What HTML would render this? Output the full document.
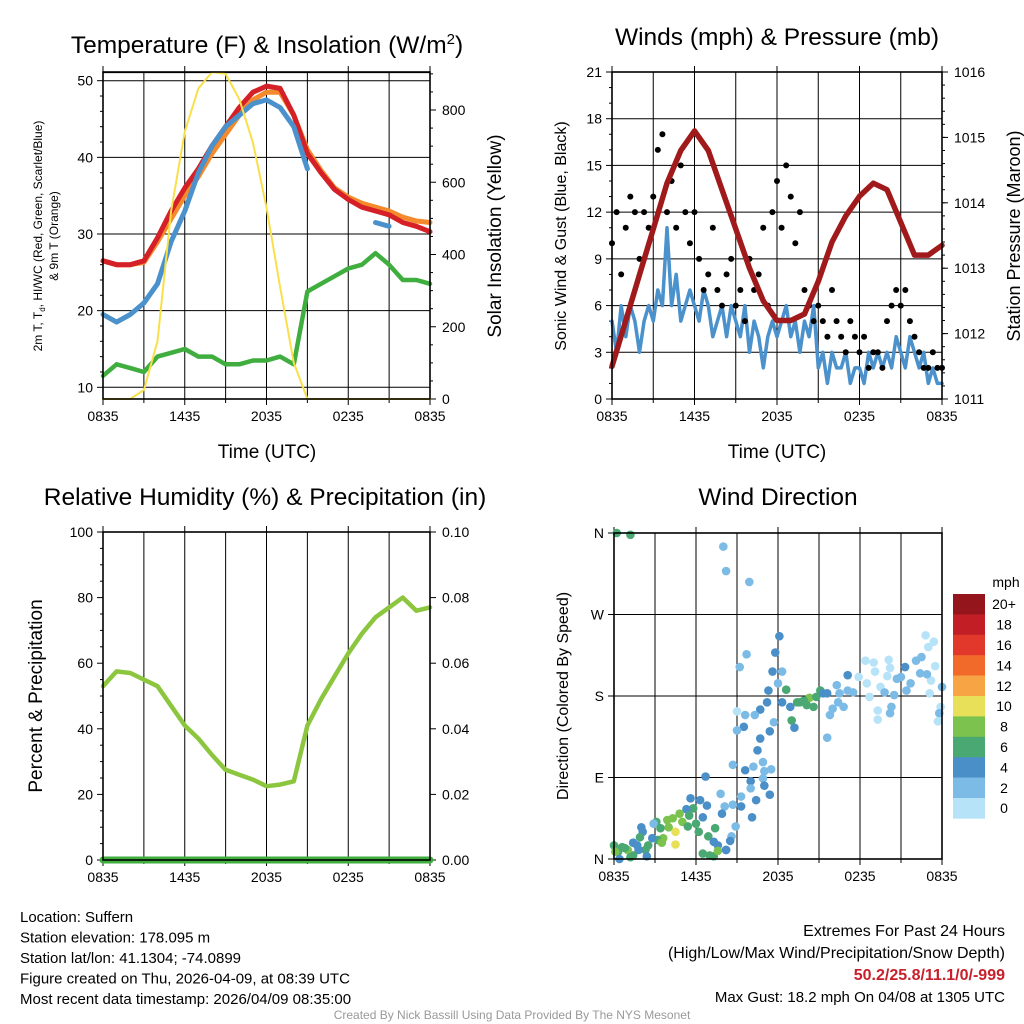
<!DOCTYPE html>
<html><head><meta charset="utf-8"><style>
html,body{margin:0;padding:0;background:#fff;}
svg{display:block;font-family:"Liberation Sans",Arial,sans-serif;}
</style></head><body>
<svg id="c" width="1024" height="1024" viewBox="0 0 1024 1024"></svg>
<script>
// ---------- data ----------
const xTickLabels = ["0835","1435","2035","0235","0835"];
const hours = [0,1,2,3,4,5,6,7,8,9,10,11,12,13,14,15,16,17,18,19,20,21,22,23,24];
const tempRed = [26.5,26,26,26.5,29.5,33,36,38.5,41.5,44,46.5,48.5,49.3,49,45.5,40.5,38,35.8,34.5,33.5,33,32.5,31.5,31,30.3];
const tempOrange = [26.5,26,26,26.3,29,32,35,37.5,40.5,43,45.5,47.5,48.5,48.5,45.5,41,38.3,36,34.8,34,33.5,33,32.2,31.7,31.5];
const tempBlue = [19.5,18.5,19.5,21,23.5,29,33,38,41.5,44,45.5,47,47.5,46.5,44,38.5,null,34.5,null,null,31.5,31,null,null,null];
const tempGreen = [11.5,13,12.5,12,14,14.5,15,14,14,13,13,13.5,13.5,14,13,22.5,23.5,24.5,25.5,26,27.5,26,24,24,23.5];
const solar = [0,0,0,25,160,520,740,860,905,900,830,710,530,310,100,0,0,0,0,0,0,0,0,0,0];
const tempTicks = [10,20,30,40,50];
const solarTicks = [0,200,400,600,800];

const stepHours = 1/3;
const windSpeed = [5,3,6,4,6,5,3,5,6, 5,7,6,11,6,8,5,6,7, 6,5,7,6,4,5,6,4,6, 5,4,6,3,5,4,2,4,5, 4,5,6,4,5,3,5,4,6, 2,3,1,3,2,2,3,1,2, 2,1,3,2,3,2,3,2,4, 3,2,4,3,2,3,1,2,1,1];
const gusts = [10,12,8,11,13,12,9,12,11, 13,16,17,12,14,11,15,12,10, 12,9,7,8,11,7,6,8,9, 6,7,5,9,7,8,11,6,12, 14,11,15,13,10,12,7,6,5, 6,5,4,7,5,4,3,5,4, 3,4,2,3,3,2,5,6,7, 6,7,5,4,3,2,2,3,2,2];
const pressure = [1011.5,1012.2,1012.9,1013.6,1014.3,1014.8,1015.1,1014.8,1014.2,1013.6,1013,1012.5,1012.2,1012.2,1012.3,1012.8,1013.4,1013.8,1014.1,1014.3,1014.2,1013.7,1013.2,1013.2,1013.35];
const windTicks = [0,3,6,9,12,15,18,21];
const pressTicks = [1011,1012,1013,1014,1015,1016];

const rh = [53,57.5,57,55,53,47,41,37,32,27.5,26,24.5,22.5,23,24,41,49,56,63,69,74,77,80,76,77];
const precip = [0,0,0,0,0,0,0,0,0,0,0,0,0,0,0,0,0,0,0,0,0,0,0,0,0];
const rhTicks = [0,20,40,60,80,100];
const precipTicks = ["0.00","0.02","0.04","0.06","0.08","0.10"];

const dirHours = [0.2,1.2,8.0,8.2,9.9,12.1,9.7,9.2,11.8,11.6,12.3,12.0,11.3,12.6,11.2,12.3,13.4,14.3,15.1,14.1,12.9,10.7,9.0,9.6,10.3,9.5,9.0,11.4,11.7,13.0,13.2,10.7,10.5,15.6,15.8,16.0,16.8,16.4,17.1,17.1,16.3,17.9,18.4,19.0,19.1,18.5,19.5,20.1,20.2,20.0,19.8,18.7,19.3,19.3,20.3,20.2,20.5,21.3,21.0,21.7,22.1,22.5,22.8,23.0,23.4,23.5,23.2,23.1,24.0,23.9,23.8,23.7,22.4,22.9,21.4,20.7,16.5,15.6,17.5,
8.7,9.6,10.2,10.9,11.0,11.5,10.9,11.0,10.0,10.0,11.4,10.4,9.3,9.3,10.1,8.9,8.6,8.5,8.2,7.8,8.1,7.9,8.7,6.7,5.6,6.3,6.8,6.5,5.8,5.3,5.5,4.8,4.3,5.0,5.4,6.0,6.2,3.9,4.0,3.1,2.9,3.4,3.6,3.2,3.5,4.5,4.5,2.0,2.1,1.9,1.7,1.4,2.8,2.5,2.3,2.4,1.8,1.4,1.0,0.8,0.6,0.3,0.0,0.1,0.4,1.2,6.9,7.4,7.3,7.6,6.5,7.0,7.3,7.6,8.2,13.6,13.9,14.6,14.8,15.3];
const dirDegrees = [360,358,345,318,306,246,226,212,228,207,207,194,186,187,173,173,173,178,186,170,168,165,163,159,159,146,142,141,151,153,145,133,120,134,159,166,168,173,186,203,192,201,219,217,207,194,190,220,211,202,184,179,164,154,168,161,181,212,201,194,219,223,247,234,240,213,197,183,190,168,161,152,205,204,186,199,183,183,184,
104,98,102,107,97,99,89,81,86,78,71,65,69,58,46,36,25,20,10,72,58,50,60,91,67,65,59,46,56,55,48,50,45,41,36,39,30,43,35,41,39,34,23,21,18,30,16,35,30,24,15,18,23,15,10,3,10,4,10,12,13,8,15,8,0,2,25,34,19,15,6,4,3,9,10,173,175,168,179,183];
const dirSpeeds = [6,6,2,2,2,4,2,2,4,4,2,2,4,6,4,4,6,8,6,6,4,4,0,2,2,4,2,4,2,6,4,4,4,2,2,2,2,2,2,4,2,0,0,0,0,0,0,0,0,0,2,0,0,0,2,2,2,4,2,2,2,2,0,0,0,0,0,0,2,0,2,0,2,2,2,2,2,4,2,
2,4,2,2,2,2,2,4,4,2,4,4,2,4,4,2,2,4,4,2,2,4,2,4,4,4,4,4,6,4,6,8,8,8,6,6,6,8,8,6,2,6,8,6,8,10,10,4,4,6,4,4,4,6,6,4,4,6,8,6,6,6,6,8,4,6,6,6,4,4,6,6,6,8,4,6,6,6,6,4];
const dirTickLabels = ["N","E","S","W","N"];
const speedBins = ["0","2","4","6","8","10","12","14","16","18","20+"];
const binColors = ["#b6e3f8","#7cbbe6","#4a8fc8","#4aa872","#7cc24e","#e8e058","#f7a544","#f26a2a","#e2372b","#c11f25","#94161c"];

// ---------- helpers ----------
const svg = document.getElementById('c');
const NS = 'http://www.w3.org/2000/svg';
function mk(tag, attrs, parent, text){
  const e = document.createElementNS(NS, tag);
  for (const k in attrs) e.setAttribute(k, attrs[k]);
  if (text !== undefined) e.textContent = text;
  (parent || svg).appendChild(e);
  return e;
}
function scale(d0,d1,r0,r1){ return v => r0 + (v-d0)/(d1-d0)*(r1-r0); }
function polyPts(xs, ys, fx, fy){
  const segs=[]; let cur=[];
  for (let i=0;i<xs.length;i++){
    if (ys[i]===null){ if(cur.length) segs.push(cur); cur=[]; continue; }
    cur.push(fx(xs[i]).toFixed(1)+','+fy(ys[i]).toFixed(1));
  }
  if(cur.length) segs.push(cur);
  return segs.map(s=>s.join(' '));
}
function frame(g, L, T, R, B, fx){
  for (let h=3; h<24; h+=3){
    const l = mk('line',{x1:fx(h),x2:fx(h),y1:T,y2:B,stroke:'#000','stroke-width':1},g);
    
    
  }
  xTickLabels.forEach((t,i)=>{
    const x = fx(i*6);
    mk('line',{x1:x,x2:x,y1:B,y2:B+6,stroke:'#000'},g);
    mk('line',{x1:x,x2:x,y1:T,y2:T-6,stroke:'#000'},g);
    const tx = mk('text',{x:x,y:B+22,'font-size':14,'text-anchor':'middle'},g,t);
    
    
  });
  for (let h=3; h<24; h+=6){
    mk('line',{x1:fx(h),x2:fx(h),y1:B,y2:B+4,stroke:'#000'},g);
  }
}
function border(g,L,T,R,B){
  const r = mk('rect',{x:L,y:T,width:R-L,height:B-T,fill:'none',stroke:'#000','stroke-width':1.6},g);
  
  
}
function yTicksLeft(g,L,ticks,fy,labels){
  ticks.forEach((v,i)=>{
    const y=fy(v);
    mk('line',{x1:L-6,x2:L,y1:y,y2:y,stroke:'#000'},g);
    const t = mk('text',{x:L-10,y:y+5,'font-size':14,'text-anchor':'end'},g,labels?labels[i]:String(v));
    
    
  });
}
function yTicksRight(g,R,ticks,fy,labels){
  ticks.forEach((v,i)=>{
    const y=fy(v);
    mk('line',{x1:R,x2:R+6,y1:y,y2:y,stroke:'#000'},g);
    const t = mk('text',{x:R+12,y:y+5,'font-size':14,'text-anchor':'start'},g,labels?labels[i]:String(v));
    
    
  });
}
function title(x,y,txt,name){
  const t = mk('text',{x:x,y:y,'font-size':24.5,'text-anchor':'middle'},svg,txt);
  
  
  return t;
}
function rotLabel(x,y,txt,size,name){
  const t = mk('text',{x:x,y:y,'font-size':size,'text-anchor':'middle',transform:`rotate(-90 ${x} ${y})`},svg,txt);
  
  
  return t;
}
function line(g,xs,ys,fx,fy,color,w,name){
  polyPts(xs,ys,fx,fy).forEach(p=>{
    const l = mk('polyline',{points:p,fill:'none',stroke:color,'stroke-width':w,'stroke-linejoin':'round','stroke-linecap':'round'},g);
    
    
  });
}

// ---------- Panel 1: temperature ----------
(function(){
  const L=103,R=430,T=72,B=399;
  const g = mk('g',{});
  
  
  const fx=scale(0,24,L,R), fy=scale(10,50,387.3,80.7), fs=scale(0,800,B,110);
  frame(g,L,T,R,B,fx);
  tempTicks.forEach(v=>{ mk('line',{x1:L,x2:R,y1:fy(v),y2:fy(v),stroke:'#000'},g); });
  mk('line',{x1:L,x2:R,y1:fs(905)+0.5,y2:fs(905)+0.5,stroke:'#000'},g);
  for(let v=12; v<=50; v+=2){ if(v%10) mk('line',{x1:L-3,x2:L,y1:fy(v),y2:fy(v),stroke:'#000'},g); }
  for(let v=50; v<=900; v+=50){ if(v%200) mk('line',{x1:R,x2:R+3,y1:fs(v),y2:fs(v),stroke:'#000'},g); }
  yTicksLeft(g,L,tempTicks,fy);
  yTicksRight(g,R,solarTicks,fs);
  line(g,hours,tempGreen,fx,fy,'#3fae3f',4.5,'dewpoint-line');
  line(g,hours,tempOrange,fx,fy,'#f58a2c',5,'9m-temperature-line');
  line(g,hours,tempRed,fx,fy,'#d42026',5,'2m-temperature-line');
  line(g,hours,tempBlue,fx,fy,'#4b91cc',5,'wind-chill-line');
  line(g,hours,solar,fx,fs,'#f9e04b',2,'solar-insolation-line');
  border(g,L,T,R,B);
  const t = title(267,53,'Temperature (F) & Insolation (W/m','temperature-title');
  mk('tspan',{dy:-9,'font-size':15},t,'2');
  mk('tspan',{dy:9},t,')');
  title(267,458,'Time (UTC)','x-axis-title').setAttribute('font-size',19);
  const a = rotLabel(42,236,'',12,'temperature-axis-title');
  a.appendChild(document.createTextNode('2m T, T'));
  mk('tspan',{'font-size':8,dy:3},a,'d');
  mk('tspan',{dy:-3},a,', HI/WC (Red, Green, Scarlet/Blue)');
  rotLabel(58,236,'& 9m T (Orange)',12,'temperature-axis-title-2');
  rotLabel(501,236,'Solar Insolation (Yellow)',19,'solar-axis-title');
})();

// ---------- Panel 2: winds ----------
(function(){
  const L=612,R=942,T=72,B=399;
  const g = mk('g',{});
  
  
  const fx=scale(0,24,L,R), fy=scale(0,21,B,T), fp=scale(1011,1016,B,T);
  frame(g,L,T,R,B,fx);
  windTicks.forEach(v=>{ mk('line',{x1:L,x2:R,y1:fy(v),y2:fy(v),stroke:'#000'},g); });
  for(let v=1; v<21; v++){ if(v%3) mk('line',{x1:L-3,x2:L,y1:fy(v),y2:fy(v),stroke:'#000'},g); }
  for(let v=1011.2; v<1016; v+=0.2){ mk('line',{x1:R,x2:R+3,y1:fp(v),y2:fp(v),stroke:'#000'},g); }
  yTicksLeft(g,L,windTicks,fy);
  yTicksRight(g,R,pressTicks,fp);
  const windHours = windSpeed.map((v,i)=>i*stepHours);
  line(g,windHours,windSpeed,fx,fy,'#4b91cc',3.5,'sonic-wind-line');
  gusts.forEach((v,i)=>{
    const c = mk('circle',{cx:fx(i*stepHours),cy:fy(v),r:3,fill:'#000'},g);
    
    
  });
  line(g,hours,pressure,fx,fp,'#a01a1c',5.5,'pressure-line');
  border(g,L,T,R,B);
  title(777,45,'Winds (mph) & Pressure (mb)','winds-title');
  title(777,458,'Time (UTC)','x-axis-title').setAttribute('font-size',19);
  rotLabel(566,236,'Sonic Wind & Gust (Blue, Black)',16,'wind-axis-title');
  rotLabel(1020,236,'Station Pressure (Maroon)',18,'pressure-axis-title');
})();

// ---------- Panel 3: RH ----------
(function(){
  const L=103,R=430,T=532,B=860;
  const g = mk('g',{});
  
  
  const fx=scale(0,24,L,R), fy=scale(0,100,B,T), fq=scale(0,0.1,B,T);
  frame(g,L,T,R,B,fx);
  for(let v=5; v<100; v+=5){ if(v%20) mk('line',{x1:L-3,x2:L,y1:fy(v),y2:fy(v),stroke:'#000'},g); }
  yTicksLeft(g,L,rhTicks,fy);
  yTicksRight(g,R,precipTicks.map(Number),fq,precipTicks);
  line(g,hours,rh,fx,fy,'#8cc63f',4.5,'humidity-line');
  line(g,hours,precip,fx,fq,'#3fae3f',7,'precipitation-line');
  border(g,L,T,R,B);
  title(265,505,'Relative Humidity (%) & Precipitation (in)','humidity-title');
  rotLabel(42,696,'Percent & Precipitation',19,'humidity-axis-title');
})();

// ---------- Panel 4: wind direction ----------
(function(){
  const L=614,R=942,T=533,B=859;
  const g = mk('g',{});
  
  
  const fx=scale(0,24,L,R), fy=scale(0,360,B,T);
  frame(g,L,T,R,B,fx);
  dirTickLabels.forEach((t,i)=>{ mk('line',{x1:L,x2:R,y1:fy(i*90),y2:fy(i*90),stroke:'#000'},g); });
  yTicksLeft(g,L,[0,90,180,270,360],fy,dirTickLabels);
  dirHours.forEach((h,i)=>{
    const bin = Math.min(10,Math.floor(dirSpeeds[i]/2));
    const c = mk('circle',{cx:fx(h),cy:fy(dirDegrees[i]),r:4.3,fill:binColors[bin]},g);
    
    
  });
  border(g,L,T,R,B);
  title(778,505,'Wind Direction','direction-title');
  rotLabel(568,696,'Direction (Colored By Speed)',16,'direction-axis-title');
  const cb = mk('g',{});
  
  
  const h = 20.4, top = 594;
  speedBins.forEach((lab,i)=>{
    const k = speedBins.length-1-i;
    const y = top + i*h;
    const r = mk('rect',{x:953,y:y,width:32,height:h+0.3,fill:binColors[k]},cb);
    
    
    const t = mk('text',{x:1004,y:y+h/2+5,'font-size':14,'text-anchor':'middle'},cb,speedBins[k]);
    
    
  });
  const u = mk('text',{x:1006,y:587,'font-size':14,'text-anchor':'middle'},cb,'mph');
  
  
})();

// ---------- footer ----------
(function(){
  const left = ["Location: Suffern","Station elevation: 178.095 m","Station lat/lon: 41.1304; -74.0899","Figure created on Thu, 2026-04-09, at 08:39 UTC","Most recent data timestamp: 2026/04/09 08:35:00"];
  left.forEach((s,i)=>{
    const t = mk('text',{x:20,y:922+i*20.5,'font-size':15},svg,s);
    
    
  });
  const r1 = mk('text',{x:1005,y:936,'font-size':16,'text-anchor':'end'},svg,'Extremes For Past 24 Hours');
  
  
  const r2 = mk('text',{x:1005,y:958,'font-size':16,'text-anchor':'end'},svg,'(High/Low/Max Wind/Precipitation/Snow Depth)');
  
  
  const r3 = mk('text',{x:1005,y:980,'font-size':16,'text-anchor':'end','font-weight':'bold',fill:'#c8202a'},svg,'50.2/25.8/11.1/0/-999');
  
  
  const r4 = mk('text',{x:1005,y:1002,'font-size':15,'text-anchor':'end'},svg,'Max Gust: 18.2 mph On 04/08 at 1305 UTC');
  
  
  const cr = mk('text',{x:512,y:1019,'font-size':12,'text-anchor':'middle',fill:'#999'},svg,'Created By Nick Bassill Using Data Provided By The NYS Mesonet');
  
  
})();
</script>
</body></html>
